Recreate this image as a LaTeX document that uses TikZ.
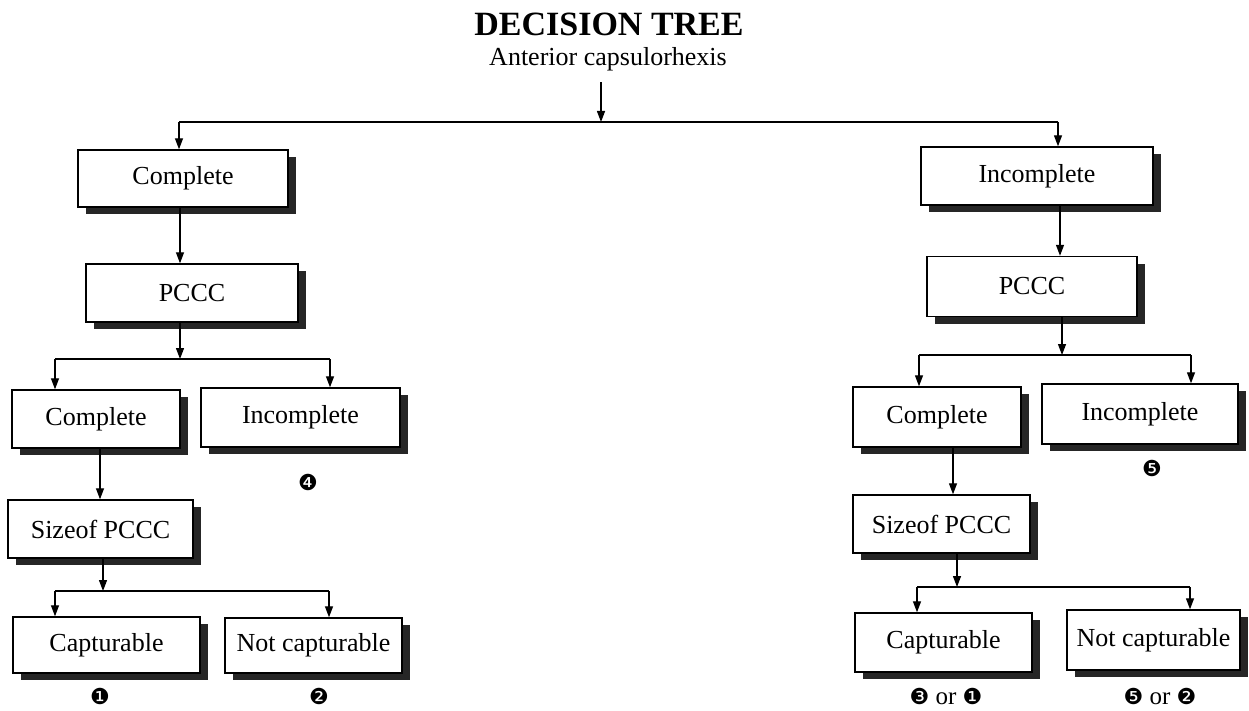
\documentclass[tikz,border=0pt]{standalone}
\usepackage{fontspec}
\setmainfont{Liberation Serif}
\newfontfamily\dingfont{DejaVu Sans}
\usetikzlibrary{arrows.meta,shadows}
\tikzset{
  box/.style={draw, line width=1.4pt, fill=white, inner sep=0pt,
    font=\fontsize{26}{30}\selectfont,
    drop shadow={shadow xshift=8pt, shadow yshift=-7pt, fill=black!85, opacity=1}},
  arr/.style={line width=1.3pt, -{Triangle[length=11pt,width=8pt]}},
  ln/.style={line width=1.3pt},
  num/.style={font=\dingfont\fontsize{22}{24}\selectfont, inner sep=0pt},
  orlab/.style={font=\fontsize{25}{28}\selectfont, inner sep=0pt},
}
\newcommand{\dnum}[1]{{\dingfont\fontsize{22}{24}\selectfont #1}}
\begin{document}
\begin{tikzpicture}[x=1pt,y=-1pt]
\useasboundingbox[fill=white] (0,0) rectangle (1249,711);
% titles
\node[font=\bfseries\fontsize{34}{36}\selectfont] (title) at (609,24) {DECISION TREE};
\node[font=\fontsize{26}{30}\selectfont] (sub) at (608,59) {Anterior capsulorhexis};
% boxes
\node[box, minimum width=210pt, minimum height=57pt] (C1) at (183,178.5) {Complete};
\node[box, minimum width=232pt, minimum height=58pt] (I1) at (1037,176) {Incomplete};
\node[box, minimum width=212pt, minimum height=58pt] (P1) at (192,293) {PCCC};
\node[box, minimum width=210pt, minimum height=60pt] (P2) at (1032,286.5) {PCCC};
\node[box, minimum width=168pt, minimum height=58pt] (C2) at (96,419) {Complete};
\node[box, minimum width=199pt, minimum height=59pt] (I2) at (300.5,417.5) {Incomplete};
\node[box, minimum width=168pt, minimum height=60pt] (C3) at (937,417) {Complete};
\node[box, minimum width=196pt, minimum height=60pt] (I3) at (1140,414) {Incomplete};
\node[box, minimum width=185pt, minimum height=58pt] (S1) at (100.5,529) {Sizeof PCCC};
\node[box, minimum width=177pt, minimum height=58pt] (S2) at (941.5,524) {Sizeof PCCC};
\node[box, minimum width=187pt, minimum height=56pt] (K1) at (106.5,645) {Capturable};
\node[box, minimum width=177pt, minimum height=55pt] (N1) at (313.5,645.5) {Not capturable};
\node[box, minimum width=177pt, minimum height=59pt] (K2) at (943.5,642.5) {Capturable};
\node[box, minimum width=173pt, minimum height=60pt] (N2) at (1153.5,640) {Not capturable};
% junction coordinates
\coordinate (j0) at (601,122);
\coordinate (j0L) at (179,122);
\coordinate (j0R) at (1058,122);
\coordinate (xa) at (180,0);
\coordinate (j1) at (180,359);
\coordinate (j1L) at (55,359);
\coordinate (j1R) at (330,359);
\coordinate (xb) at (100,0);
\coordinate (j2) at (103,591);
\coordinate (j2L) at (55,591);
\coordinate (j2R) at (329,591);
\coordinate (xr) at (1060,0);
\coordinate (j3) at (1062,355);
\coordinate (j3L) at (919,355);
\coordinate (j3R) at (1191,355);
\coordinate (xc) at (953,0);
\coordinate (j4) at (957,587);
\coordinate (j4L) at (917,587);
\coordinate (j4R) at (1190,587);
% connectors: top
\draw[arr] ([yshift=-8pt]sub.south -| j0) -- (j0);
\draw[ln] (j0L) -- (j0R);
\draw[arr] (j0L) -- (j0L |- C1.north);
\draw[arr] (j0R) -- (j0R |- I1.north);
% left branch
\draw[arr] (C1.south -| xa) -- (P1.north -| xa);
\draw[arr] (P1.south -| j1) -- (j1);
\draw[ln] (j1L) -- (j1R);
\draw[arr] (j1L) -- (j1L |- C2.north);
\draw[arr] (j1R) -- (j1R |- I2.north);
\draw[arr] (C2.south -| xb) -- (S1.north -| xb);
\draw[arr] (S1.south -| j2) -- (j2);
\draw[ln] (j2L) -- (j2R);
\draw[arr] (j2L) -- (j2L |- K1.north);
\draw[arr] (j2R) -- (j2R |- N1.north);
% right branch
\draw[arr] (I1.south -| xr) -- (P2.north -| xr);
\draw[arr] (P2.south -| j3) -- (j3);
\draw[ln] (j3L) -- (j3R);
\draw[arr] (j3L) -- (j3L |- C3.north);
\draw[arr] (j3R) -- (j3R |- I3.north);
\draw[arr] (C3.south -| xc) -- (S2.north -| xc);
\draw[arr] (S2.south -| j4) -- (j4);
\draw[ln] (j4L) -- (j4R);
\draw[arr] (j4L) -- (j4L |- K2.north);
\draw[arr] (j4R) -- (j4R |- N2.north);
% outcome labels
\node[num] (n4) at (308,482) {❹};
\node[num] (n5) at (1152,468) {❺};
\node[num] (n1) at (100,696) {❶};
\node[num] (n2) at (319,696) {❷};
\node[orlab] (n31) at (946,696) {\dnum{❸} or \dnum{❶}};
\node[orlab] (n52) at (1160,696) {\dnum{❺} or \dnum{❷}};
\end{tikzpicture}
\end{document}
